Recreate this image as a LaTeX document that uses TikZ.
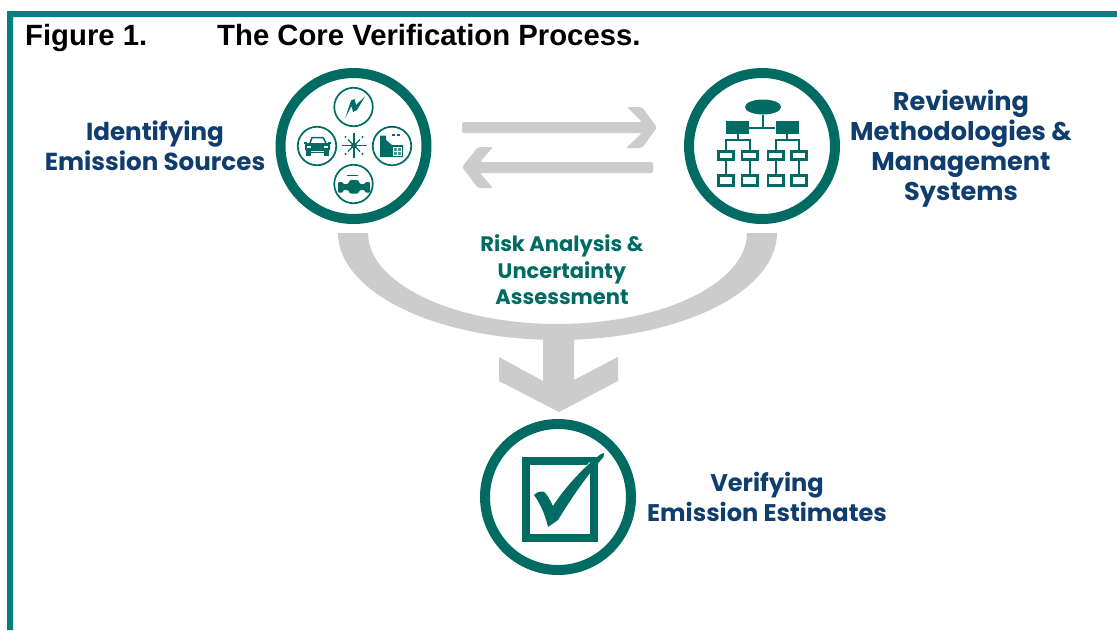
\documentclass[tikz,border=0pt]{standalone}
\usepackage{fontspec}
\usetikzlibrary{shapes.geometric}
\setmainfont{Liberation Sans}
\newfontfamily\gothic{Poppins}
\definecolor{frameteal}{HTML}{008080}
\definecolor{ringteal}{HTML}{006B63}
\definecolor{navy}{HTML}{0F3D6E}
\definecolor{arrowgray}{HTML}{CCCCCC}
\tikzset{
  ring/.style={circle,draw=ringteal,line width=10pt,fill=white,minimum size=146pt,inner sep=0pt},
  mini/.style={circle,draw=ringteal,line width=1.7pt,fill=white,minimum size=38.5pt,inner sep=0pt},
  navylabel/.style={text=navy,align=center,font=\gothic\bfseries\fontsize{24.6}{30}\selectfont,inner sep=0pt},
  teallabel/.style={text=ringteal,align=center,font=\gothic\bfseries\fontsize{21}{26.5}\selectfont,inner sep=0pt},
  titletext/.style={font=\bfseries\fontsize{29.3}{32}\selectfont,anchor=base west,inner sep=0pt,text=black},
  grayshape/.style={fill=arrowgray,draw=none},
  solidbox/.style={fill=ringteal,draw=none},
  orgline/.style={draw=ringteal,line width=2pt},
  orgbox/.style={draw=ringteal,line width=2.6pt,fill=white},
}
\begin{document}
\begin{tikzpicture}[x=1pt,y=-1pt]
\useasboundingbox (0,0) rectangle (1117,630);
\fill[white] (0,0) rectangle (1117,630);
% frame
\fill[frameteal] (7,630) -- (7,11) -- (1117,11) -- (1117,17) -- (13,17) -- (13,630) -- cycle;
% title
\node[titletext] (figno) at (25,45) {Figure 1.};
\node[titletext] (figtitle) at (217,45) {The Core Verification Process.};
% gray arrows
\fill[grayshape,rounded corners=2pt] (462,122) -- (642,122) -- (627,107) -- (642,107) -- (657,127.5) -- (642,148) -- (626,148) -- (642,133) -- (462,133) -- cycle;
\fill[grayshape,rounded corners=2pt] (653,162) -- (480,162) -- (493,147) -- (478,147) -- (462,167) -- (478,188) -- (493,188) -- (480,173) -- (653,173) -- cycle;
% U arc with down arrow
\fill[grayshape] plot[domain=180:360,samples=80] ({557.5+219.5*cos(\x)},{233-107*sin(\x)}) -- plot[domain=360:180,samples=80] ({557.5+189.5*cos(\x)},{233-91*sin(\x)}) -- cycle;
\fill[grayshape] (543,338) -- (574,338) -- (574,380) -- (618,357) -- (618,381) -- (559,412) -- (499,381) -- (499,357) -- (543,381) -- cycle;
% main rings
\node[ring] (src) at (353.5,146) {};
\node[ring] (rev) at (762,146) {};
\node[ring] (ver) at (558,497) {};
% mini circles
\node[mini] (bolt) at (353.5,107) {};
\node[mini] (car) at (317,146) {};
\node[mini] (fact) at (392,146) {};
\node[mini] (pipe) at (353.5,184) {};
% bolt
\fill[ringteal] (345,118.5) -- (351,100.5) -- (354.5,99) -- (356,105) -- (365,96.5) -- (357,110) -- (353,112) -- (351.5,106) -- cycle;
% car
\draw[ringteal,line width=1.5pt,line join=round] (310,143) -- (312,137.5) -- (323,137.5) -- (326,143);
\fill[ringteal,rounded corners=1.5pt] (305,143) rectangle (330,151);
\fill[ringteal] (304,141.5) rectangle (307,143.5);
\fill[ringteal] (328,141.5) rectangle (331,143.5);
\fill[white] (307,145.5) rectangle (311,148);
\fill[white] (324,145.5) rectangle (328,148);
\fill[ringteal] (306,151) rectangle (311,155.5);
\fill[ringteal] (323.5,151) rectangle (328.5,155.5);
\draw[ringteal,line width=1pt] (311,152.5) -- (323.5,152.5);
% factory
\fill[ringteal] (380,157) -- (380,135.5) -- (386,135.5) -- (386,140) -- (392,145) -- (403,145) -- (403,157) -- cycle;
\fill[ringteal] (392,134) rectangle (395,136);
\fill[ringteal] (397,134) rectangle (400,136);
\fill[white] (393,147) rectangle (402,155.5);
\fill[ringteal!70!white] (394,148) rectangle (397,151);
\fill[ringteal!70!white] (398,148) rectangle (401,151);
\fill[ringteal!70!white] (394,152) rectangle (397,155);
\fill[ringteal!70!white] (398,152) rectangle (401,155);
% pipe
\fill[ringteal,rounded corners=1pt] (338,182) -- (343,182) -- (343,184) -- (348,184) -- (350,180) -- (358,180) -- (360,184) -- (365,184) -- (365,182) -- (370,182) -- (370,192.5) -- (365,192.5) -- (365,190) -- (360,190) -- (358,193.5) -- (350,193.5) -- (348,190) -- (343,190) -- (343,192.5) -- (338,192.5) -- cycle;
\draw[ringteal,line width=1.2pt] (347,175.7) -- (358,175.7);
% snowflake
\foreach \ang in {0,90,180,270}{\draw[ringteal,line width=1.3pt] (354,145.5) -- ++(\ang:12.5);}
\foreach \ang in {45,135,225,315}{\draw[ringteal,line width=1.3pt] (354,145.5) -- ++(\ang:8.5);\fill[ringteal] (354,145.5) ++(\ang:12) circle[radius=1.2];}
\fill[ringteal] (354,145.5) circle[radius=3];
% org chart
\node[ellipse,fill=ringteal,minimum width=36pt,minimum height=15pt,inner sep=0pt] (top) at (763,107) {};
\node[rectangle,solidbox,minimum width=23pt,minimum height=13pt,inner sep=0pt] (ml) at (737.5,127.5) {};
\node[rectangle,solidbox,minimum width=23pt,minimum height=13pt,inner sep=0pt] (mr) at (787,127.5) {};
\foreach \nm/\bx in {a/726,b/749.5,c/775.5,d/799}{
  \node[rectangle,orgbox,minimum width=15.4pt,minimum height=8.4pt,inner sep=0pt] (up\nm) at (\bx,155.5) {};
  \node[rectangle,orgbox,minimum width=15.4pt,minimum height=10.4pt,inner sep=0pt] (lo\nm) at (\bx,180.5) {};
  \draw[orgline] (up\nm) -- (lo\nm);
}
\draw[orgline] (top.south) -- (763,127.5);
\draw[orgline] (ml) -- (mr);
\draw[orgline] (ml.south) -- (737.5,140);
\draw[orgline] (mr.south) -- (787,140);
\draw[orgline] (upa.north) -- (726,140) -- (749.5,140) -- (upb.north);
\draw[orgline] (upc.north) -- (775.5,140) -- (799,140) -- (upd.north);
% check box
\draw[ringteal,line width=8pt] (526,461) rectangle (594,538);
\fill[white] (530,490) -- (546,486) -- (553,498) -- (590,462) -- (590,470) -- (565,515) -- (550,531) -- (542,520) -- cycle;
\fill[ringteal] (534,495) .. controls (538,491) and (542,491) .. (544,492) .. controls (547,494) and (550,500) .. (553,506) .. controls (565,487) and (585,466) .. (601,454) -- (604,453) -- (603.5,457) .. controls (590,472) and (575,492) .. (558,520) -- (548,527) .. controls (546,518) and (541,504) .. (534,495) -- cycle;
% labels
\node[navylabel] (l1) at (155,146) {Identifying\\Emission Sources};
\node[navylabel,font=\gothic\bfseries\fontsize{25.6}{30}\selectfont] (l2) at (961,149) {Reviewing\\Methodologies \&\\Management\\Systems};
\node[navylabel,font=\gothic\bfseries\fontsize{24.1}{30}\selectfont] (l3) at (767,497) {Verifying\\Emission Estimates};
\node[teallabel] (l4) at (562,270) {Risk Analysis \&\\Uncertainty\\Assessment};
\end{tikzpicture}
\end{document}
